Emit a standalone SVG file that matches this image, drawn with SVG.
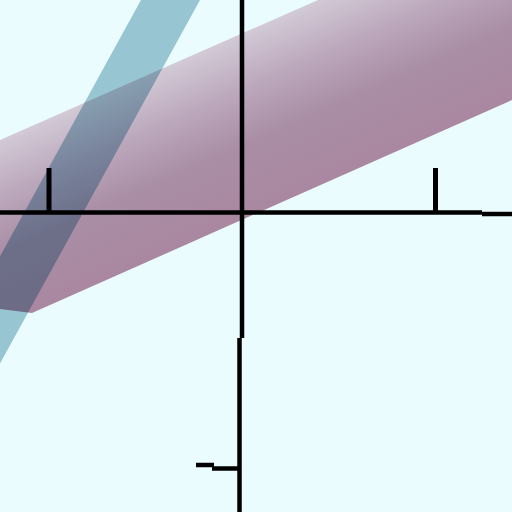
<svg xmlns="http://www.w3.org/2000/svg" width="512" height="512" viewBox="0 0 512 512">
  <defs>
    <linearGradient id="purpleGrad" gradientUnits="userSpaceOnUse" x1="256" y1="27.4" x2="325" y2="184">
      <stop offset="0" stop-color="#D2CAD6"/>
      <stop offset="0.3" stop-color="#BCA8BC"/>
      <stop offset="0.6" stop-color="#A98EA6"/>
      <stop offset="1" stop-color="#AA87A1"/>
    </linearGradient>
    <style>
      .axis { stroke: #000; stroke-width: 4.5; fill: none; stroke-linecap: butt; }
      .tick { stroke: #000; stroke-width: 5; fill: none; }
    </style>
  </defs>
  <rect x="0" y="0" width="512" height="512" fill="#EBFCFE"/>
  <g id="bands">
    <polygon id="purple-band" points="0,140 318,0 512,0 512,100 32,313 0,309" fill="url(#purpleGrad)"/>
    <polygon id="cyan-band" points="141,0 200,0 0,363.6 0,256.4" fill="#A4C8D3" style="mix-blend-mode:multiply"/>
  </g>
  <g id="axes">
    <path class="axis" d="M0,212.5 H482"/>
    <path class="axis" d="M482,214 H512"/>
    <path class="axis" d="M242,0 V338"/>
    <path class="axis" d="M239.5,338 V512"/>
    <path class="tick" d="M49,168 V212"/>
    <path class="tick" d="M435.5,168 V212"/>
    <path class="axis" d="M212,468.5 H240"/>
    <path class="axis" d="M196,465 H214"/>
  </g>
</svg>
